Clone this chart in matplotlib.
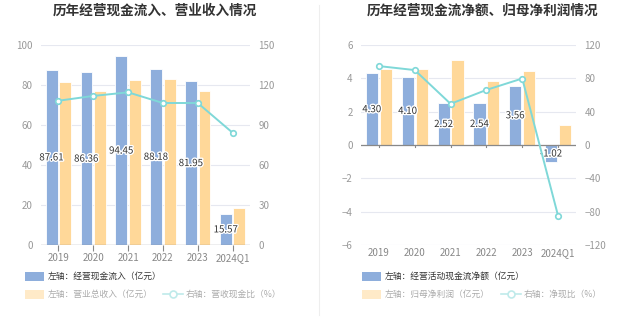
import matplotlib
matplotlib.use("Agg")
import matplotlib.pyplot as plt
from matplotlib.patches import Rectangle
from matplotlib.lines import Line2D
import matplotlib.patheffects as pe
import numpy as np

plt.rcParams['font.family'] = ['Noto Sans CJK SC', 'DejaVu Sans']

categories = ["2019", "2020", "2021", "2022", "2023", "2024Q1"]

# Left chart
cash_inflow = [87.61, 86.36, 94.45, 88.18, 81.95, 15.57]
revenue = [81.3, 77.2, 82.5, 82.8, 77.0, 18.5]
cash_ratio = [108.2, 111.8, 114.5, 106.5, 106.5, 84.2]

# Right chart
op_cash_net = [4.30, 4.10, 2.52, 2.54, 3.56, -1.02]
net_profit = [4.54, 4.56, 5.10, 3.84, 4.46, 1.20]
net_ratio = [94.7, 89.9, 49.4, 66.1, 79.8, -85.0]

BLUE = "#8eaedc"
ORANGE = "#ffd899"
ORANGE_LEG = "#ffeac8"
CYAN = "#7fd8d8"
GRID = "#e6e8f0"
TICK = "#999999"

W, H = 637, 327
fig = plt.figure(figsize=(W / 100, H / 100), dpi=100)


def make_panel(x0, x1, title, title_cx, blue, orange, ratio, ylim, yticks, y2lim, y2ticks, fmt):
    ax = fig.add_axes([x0 / W, 1 - 245 / H, (x1 - x0) / W, 200 / H])
    x = np.arange(len(categories))
    bw = 0.34
    off = 0.195
    ax.bar(x - off, blue, width=bw, color=BLUE, edgecolor="white", linewidth=0.6, zorder=2)
    ax.bar(x + off, orange, width=bw, color=ORANGE, edgecolor="white", linewidth=0.6, zorder=2)
    ax.set_xlim(-0.5, len(categories) - 0.5)
    ax.set_ylim(*ylim)
    ax.set_yticks(yticks)
    ax.set_xticks(x)
    ax.set_xticklabels(categories)
    ax.grid(axis="y", color=GRID, linewidth=0.8, zorder=0)
    ax.set_axisbelow(True)
    for s in ["top", "right", "left", "bottom"]:
        ax.spines[s].set_visible(False)
    ax.axhline(0, color="#888888", linewidth=0.9, zorder=3)
    ax.tick_params(axis="y", length=0, labelsize=7, labelcolor=TICK, pad=6)
    ax.tick_params(axis="x", length=4, color="#888888", labelsize=7, labelcolor="#888888", pad=2)
    if ylim[0] < 0:
        # x ticks at zero line: hide default and draw via bottom labels only
        ax.tick_params(axis="x", length=0)
        for xi in x:
            ax.plot([xi, xi], [0, -0.1], color="#888888", linewidth=0.8, zorder=3, clip_on=False)
    for xi, v in zip(x, blue):
        ax.text(xi - off, v / 2, fmt.format(v), ha="center", va="center", fontsize=7,
                color="#333333", zorder=5,
                path_effects=[pe.withStroke(linewidth=2, foreground="white")])
    ax2 = ax.twinx()
    ax2.set_ylim(*y2lim)
    ax2.set_yticks(y2ticks)
    for s in ["top", "right", "left", "bottom"]:
        ax2.spines[s].set_visible(False)
    ax2.tick_params(axis="y", length=0, labelsize=7, labelcolor=TICK, pad=6)
    ax2.plot(x, ratio, color=CYAN, linewidth=1.4, marker="o", markersize=4,
             markerfacecolor="white", markeredgecolor=CYAN, markeredgewidth=1.2, zorder=4)
    fig.text(title_cx / W, 1 - 11 / H, title, ha="center", va="center", fontsize=9.8,
             fontweight="bold", color="#333333")
    return ax


make_panel(41, 250, "历年经营现金流入、营业收入情况", 155, cash_inflow, revenue, cash_ratio,
           (0, 100), [0, 20, 40, 60, 80, 100], (0, 150), [0, 30, 60, 90, 120, 150], "{:.2f}")
make_panel(361, 576, "历年经营现金流净额、归母净利润情况", 483, op_cash_net, net_profit, net_ratio,
           (-6, 6), [-6, -4, -2, 0, 2, 4, 6], (-120, 120), [-120, -80, -40, 0, 40, 80, 120], "{:.2f}")

# divider
fig.add_artist(Line2D([319 / W, 319 / W], [1 - 5 / H, 1 - 315 / H], color="#eeeeee", linewidth=0.8))


def legend(x_sq, row1, row2a, x_line, row2b):
    y1 = 276
    y2 = 294
    fig.add_artist(Rectangle((x_sq / W, 1 - (y1 + 4.5) / H), 19 / W, 9 / H,
                             facecolor=BLUE, edgecolor="none", transform=fig.transFigure))
    fig.text((x_sq + 23) / W, 1 - y1 / H, row1, ha="left", va="center", fontsize=6.3, color="#333333")
    fig.add_artist(Rectangle((x_sq / W, 1 - (y2 + 4.5) / H), 19 / W, 9 / H,
                             facecolor=ORANGE_LEG, edgecolor="none", transform=fig.transFigure))
    fig.text((x_sq + 23) / W, 1 - y2 / H, row2a, ha="left", va="center", fontsize=6.3, color="#aaaaaa")
    fig.add_artist(Line2D([x_line / W, (x_line + 20) / W], [1 - y2 / H, 1 - y2 / H],
                          color="#bfeaea", linewidth=1.2))
    fig.add_artist(Line2D([(x_line + 10) / W], [1 - y2 / H], marker="o", markersize=5,
                          markerfacecolor="white", markeredgecolor="#bfeaea", markeredgewidth=1.2))
    fig.text((x_line + 23) / W, 1 - y2 / H, row2b, ha="left", va="center", fontsize=6.3, color="#aaaaaa")


legend(25, "左轴：经营现金流入（亿元）", "左轴：营业总收入（亿元）", 163, "右轴：营收现金比（%）")
legend(362, "左轴：经营活动现金流净额（亿元）", "左轴：归母净利润（亿元）", 501, "右轴：净现比（%）")

fig.savefig("out.png", dpi=100)
